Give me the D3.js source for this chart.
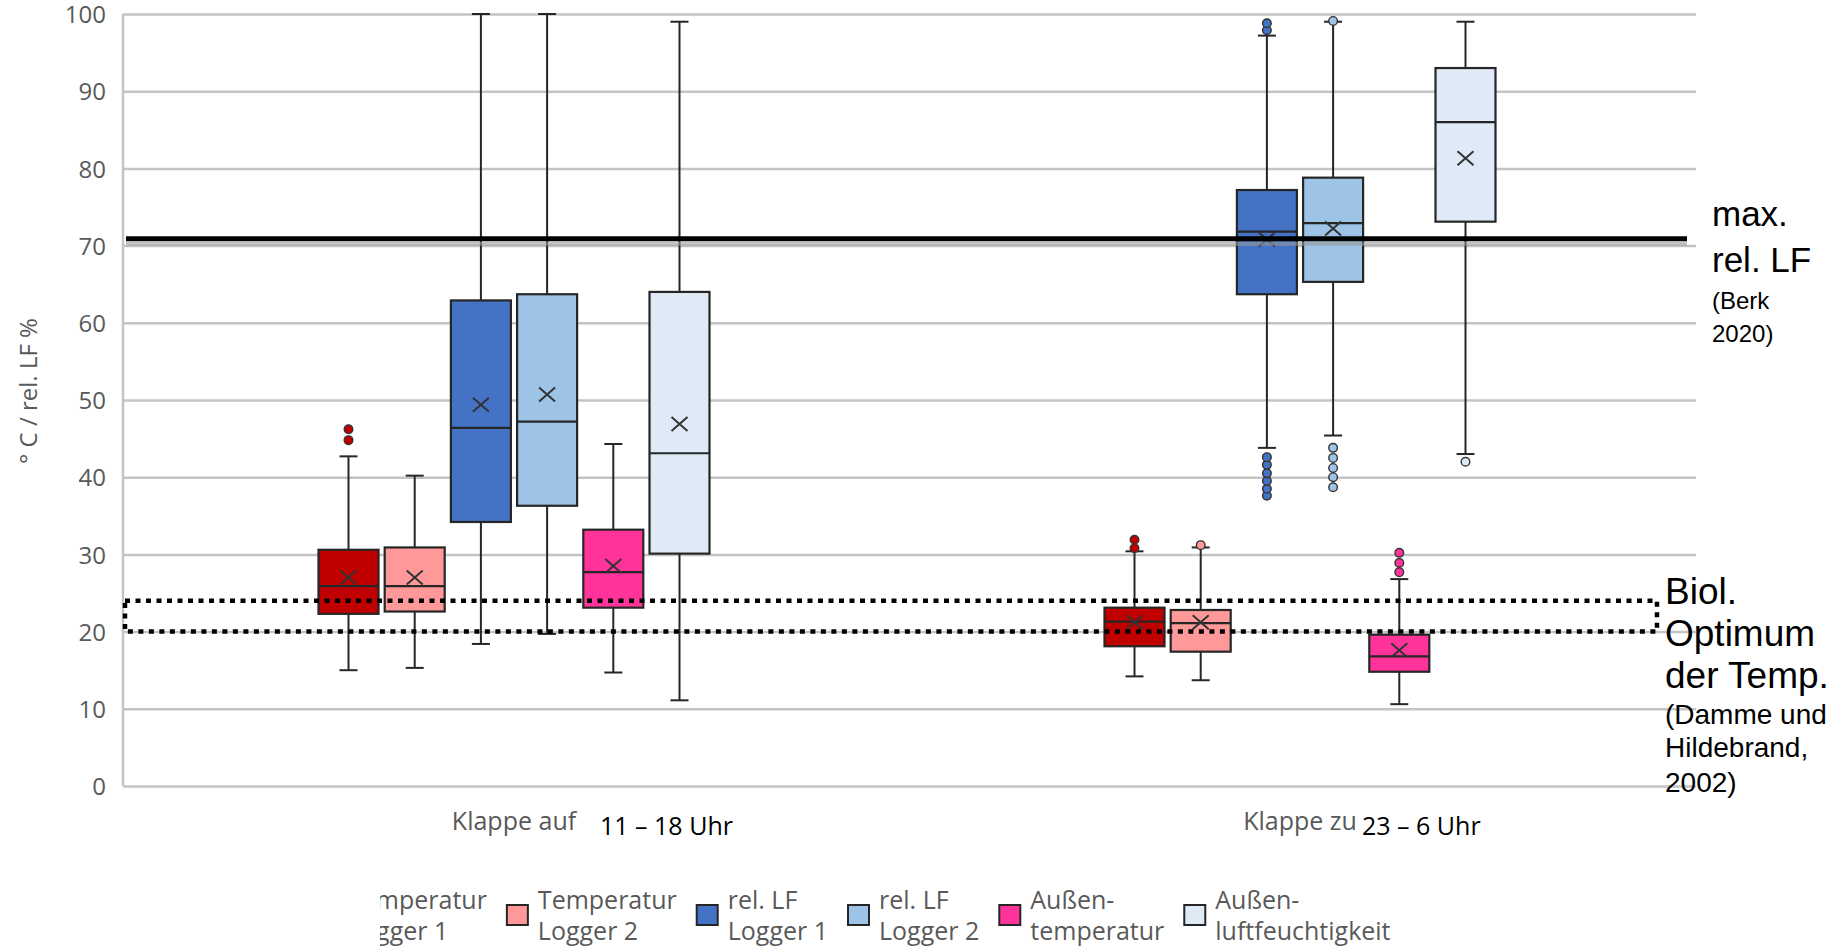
<!DOCTYPE html>
<html><head><meta charset="utf-8">
<script src="https://cdn.jsdelivr.net/npm/d3@7"></script>
<style>html,body{margin:0;padding:0;background:#fff;} svg{display:block;}</style>
</head><body>
<svg id="chart" width="1831" height="947"></svg>
<script>
// ---------- data ----------
const categories = ["Klappe auf", "Klappe zu"];
const timeLabels = ["11 – 18 Uhr", "23 – 6 Uhr"];
const seriesNames = ["Temperatur Logger 1", "Temperatur Logger 2", "rel. LF Logger 1", "rel. LF Logger 2", "Außentemperatur", "Außenluftfeuchtigkeit"];
const legendLines = [["Temperatur", "Logger 1"], ["Temperatur", "Logger 2"], ["rel. LF", "Logger 1"], ["rel. LF", "Logger 2"], ["Außen-", "temperatur"], ["Außen-", "luftfeuchtigkeit"]];
const seriesColors = ["#C00000", "#FF9999", "#4472C4", "#9DC3E6", "#FF3399", "#DEEBF7"];
const yTicks = [0, 10, 20, 30, 40, 50, 60, 70, 80, 90, 100];
// per series: [Klappe auf, Klappe zu]
const minVals    = [[15.0, 14.2], [15.3, 13.7], [18.4, 43.8], [19.7, 45.4], [14.7, 10.6], [11.1, 43.0]];
const q1Vals     = [[22.3, 18.1], [22.6, 17.4], [34.2, 63.7], [36.3, 65.3], [23.1, 14.8], [30.1, 73.1]];
const medianVals = [[25.9, 21.3], [25.9, 21.1], [46.4, 71.8], [47.2, 72.9], [27.7, 16.8], [43.1, 86.0]];
const q3Vals     = [[30.6, 23.1], [30.9, 22.8], [62.9, 77.2], [63.7, 78.8], [33.2, 19.6], [64.0, 93.0]];
const maxVals    = [[42.7, 30.4], [40.2, 30.9], [100, 97.2], [100, 99.0], [44.3, 26.8], [99.0, 99.0]];
const meanVals   = [[27.0, 21.2], [27.0, 21.2], [49.4, 70.8], [50.7, 72.2], [28.5, 17.6], [46.9, 81.3]];
const outlierVals = [
  [[44.8, 46.2], [30.8, 31.9]],
  [[], [31.2]],
  [[], [37.6, 38.5, 39.5, 40.5, 41.6, 42.6, 97.9, 98.8]],
  [[], [38.7, 40.0, 41.2, 42.5, 43.8, 99.1]],
  [[], [27.7, 28.9, 30.2]],
  [[], [42.0]]
];
const maxRelLF = 70.9;
const bioOptimum = [20, 24];
const annotMaxLF = ["max.", "rel. LF", "(Berk", "2020)"];
const annotBio = ["Biol.", "Optimum", "der Temp.", "(Damme und", "Hildebrand,", "2002)"];
const yTitle = "° C / rel. LF %";

// ---------- layout ----------
const svg = d3.select("#chart");
const plotL = 123, plotR = 1696;
const y = d3.scaleLinear().domain([0, 100]).range([786, 14]);
const x0 = d3.scaleBand().domain(categories).range([121, 1693]);
const x1 = d3.scalePoint().domain(seriesNames).range([-165.5, 165.5]);
const boxW = 60, capW = 18;
const gray = "#595959";
const gridC = "#c4c4c4";

svg.append("rect").attr("width", 1831).attr("height", 947).attr("fill", "#fff");

// y axis with gridlines
const yAx = svg.append("g").attr("transform", `translate(${plotL},0)`)
  .call(d3.axisLeft(y).tickValues(yTicks).tickSize(-(plotR - plotL)).tickPadding(17));
yAx.select(".domain").remove();
yAx.selectAll(".tick line").attr("stroke", gridC).attr("stroke-width", 2.5);
yAx.selectAll(".tick text").attr("fill", gray).attr("font-family", "'Open Sans', sans-serif")
  .attr("font-size", 24).attr("dy", "0.36em");
svg.append("line").attr("x1", plotL).attr("x2", plotL).attr("y1", y(0)).attr("y2", y(100))
  .attr("stroke", gridC).attr("stroke-width", 2.5);

// y title
svg.append("text").attr("transform", `translate(37,391) rotate(-90)`)
  .attr("text-anchor", "middle").attr("fill", gray)
  .attr("font-family", "'Open Sans', sans-serif").attr("font-size", 24).text(yTitle);

// x axis labels
const xAx = svg.append("g").attr("transform", `translate(0,${y(0)})`)
  .call(d3.axisBottom(x0).tickSize(0).tickPadding(26));
xAx.select(".domain").remove();
xAx.selectAll(".tick text").attr("fill", gray).attr("font-family", "'Open Sans', sans-serif").attr("font-size", 25);
const timeOffsets = [86, 62];
categories.forEach((c, i) => {
  svg.append("text").attr("x", x0(c) + x0.bandwidth() / 2 + timeOffsets[i]).attr("y", 835)
    .attr("fill", "#000").attr("font-family", "'Open Sans', sans-serif").attr("font-size", 25)
    .text(timeLabels[i]);
});

// boxes
const boxes = svg.append("g");
seriesNames.forEach((s, si) => {
  categories.forEach((c, ci) => {
    const cx = x0(c) + x0.bandwidth() / 2 + x1(s);
    const g = boxes.append("g");
    const st = "#262626";
    g.append("line").attr("x1", cx).attr("x2", cx).attr("y1", y(maxVals[si][ci])).attr("y2", y(q3Vals[si][ci]))
      .attr("stroke", st).attr("stroke-width", 2);
    g.append("line").attr("x1", cx).attr("x2", cx).attr("y1", y(q1Vals[si][ci])).attr("y2", y(minVals[si][ci]))
      .attr("stroke", st).attr("stroke-width", 2);
    [maxVals[si][ci], minVals[si][ci]].forEach(v => {
      g.append("line").attr("x1", cx - capW / 2).attr("x2", cx + capW / 2).attr("y1", y(v)).attr("y2", y(v))
        .attr("stroke", st).attr("stroke-width", 2);
    });
    g.append("rect").attr("x", cx - boxW / 2).attr("width", boxW)
      .attr("y", y(q3Vals[si][ci])).attr("height", y(q1Vals[si][ci]) - y(q3Vals[si][ci]))
      .attr("fill", seriesColors[si]).attr("stroke", st).attr("stroke-width", 2.2);
    g.append("line").attr("x1", cx - boxW / 2).attr("x2", cx + boxW / 2)
      .attr("y1", y(medianVals[si][ci])).attr("y2", y(medianVals[si][ci]))
      .attr("stroke", st).attr("stroke-width", 2.2);
    const my = y(meanVals[si][ci]), dx = 8, dy = 7;
    g.append("path").attr("d", `M${cx - dx},${my - dy}L${cx + dx},${my + dy}M${cx - dx},${my + dy}L${cx + dx},${my - dy}`)
      .attr("stroke", "#333").attr("stroke-width", 2).attr("fill", "none");
    outlierVals[si][ci].forEach(v => {
      g.append("circle").attr("cx", cx).attr("cy", y(v)).attr("r", 4.3)
        .attr("fill", seriesColors[si]).attr("stroke", "#333").attr("stroke-width", 1.4);
    });
  });
});

// max rel. LF line with shadow
svg.append("line").attr("x1", 126).attr("x2", 1687).attr("y1", y(maxRelLF) + 5).attr("y2", y(maxRelLF) + 5)
  .attr("stroke", "#9a9a9a").attr("stroke-opacity", 0.6).attr("stroke-width", 4);
svg.append("line").attr("x1", 126).attr("x2", 1687).attr("y1", y(maxRelLF)).attr("y2", y(maxRelLF))
  .attr("stroke", "#000").attr("stroke-width", 5);

// biological optimum dotted rectangle
svg.append("rect").attr("x", 125).attr("width", 1657 - 125)
  .attr("y", y(bioOptimum[1])).attr("height", y(bioOptimum[0]) - y(bioOptimum[1]))
  .attr("fill", "none").attr("stroke", "#000").attr("stroke-width", 4.5).attr("stroke-dasharray", "5,5.5");

// annotations
const annFont = "'Liberation Sans', Arial, sans-serif";
const maxBase = [226, 272, 309, 342];
annotMaxLF.forEach((t, i) => {
  svg.append("text").attr("x", 1712).attr("y", maxBase[i]).attr("font-family", annFont)
    .attr("font-size", i < 2 ? 35 : 24).attr("fill", "#000").text(t);
});
const bioBase = [604, 646, 688, 724, 757, 792];
annotBio.forEach((t, i) => {
  svg.append("text").attr("x", 1665).attr("y", bioBase[i]).attr("font-family", annFont)
    .attr("font-size", i < 3 ? 37 : 28).attr("fill", "#000").text(t);
});

// legend (left part clipped as in the reference)
svg.append("clipPath").attr("id", "legclip").append("rect").attr("x", 380).attr("y", 850).attr("width", 1500).attr("height", 100);
const leg = svg.append("g").attr("clip-path", "url(#legclip)");
let lx = 317;
seriesNames.forEach((s, i) => {
  const it = leg.append("g");
  it.append("rect").attr("x", lx).attr("y", 905).attr("width", 21).attr("height", 20)
    .attr("fill", seriesColors[i]).attr("stroke", "#262626").attr("stroke-width", 2);
  let maxW = 0;
  legendLines[i].forEach((t, li) => {
    const tx = it.append("text").attr("x", lx + 31).attr("y", 909 + li * 31)
      .attr("fill", gray).attr("font-family", "'Open Sans', sans-serif").attr("font-size", 25).text(t);
    maxW = Math.max(maxW, tx.node().getComputedTextLength());
  });
  lx += 31 + maxW + 20;
});
</script>
</body></html>
